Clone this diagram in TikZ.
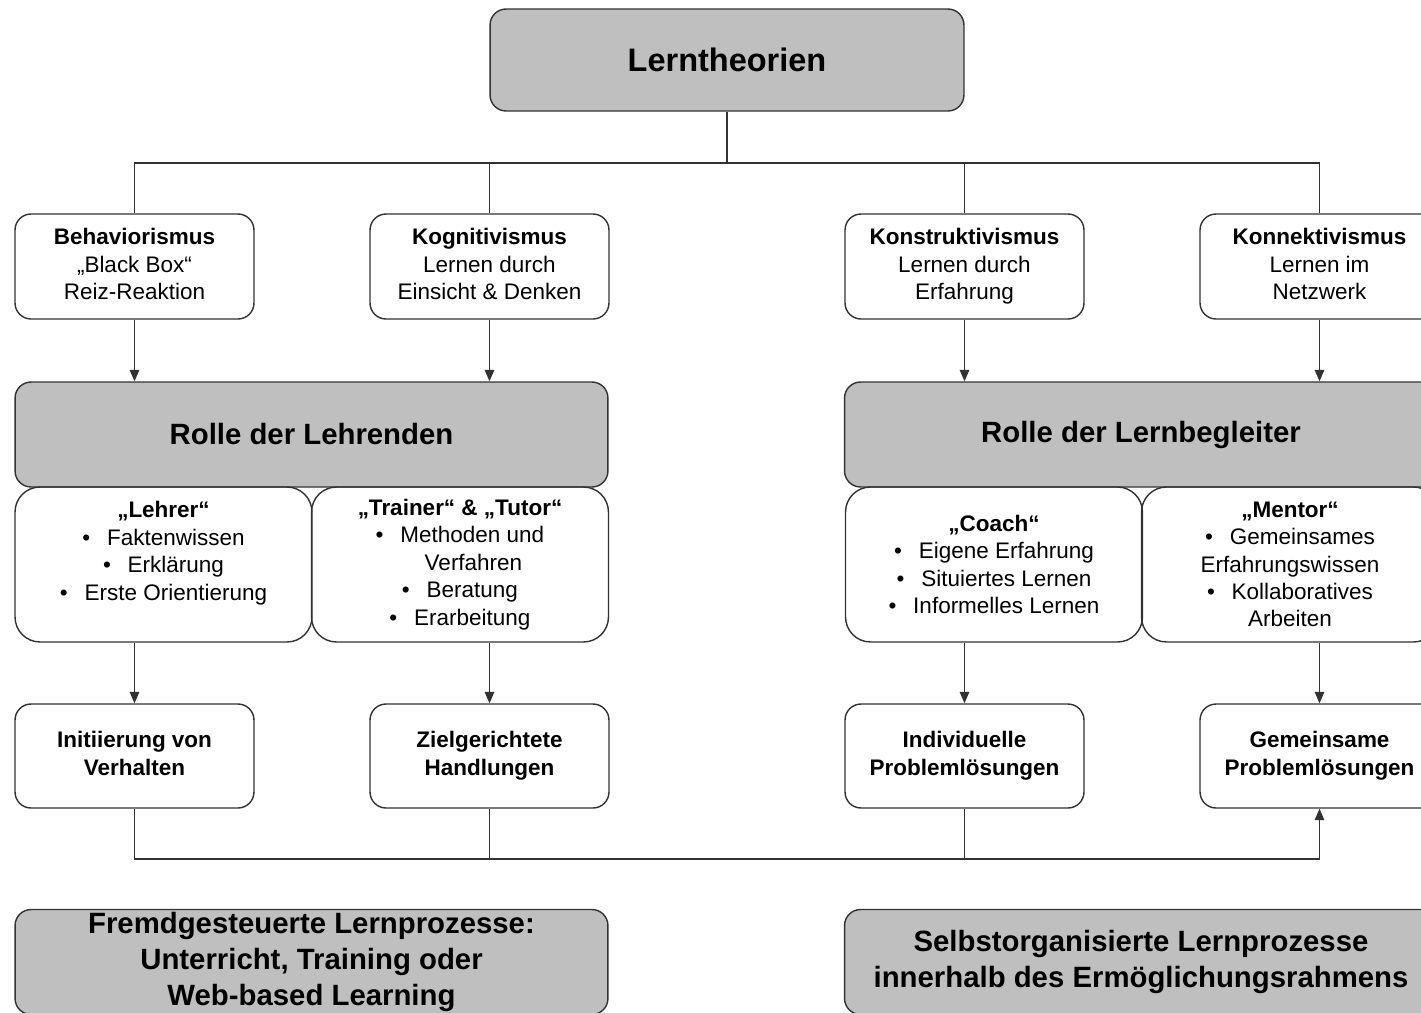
\documentclass[tikz,border=0pt]{standalone}
\usepackage{fontspec}
\setmainfont{Liberation Sans}
\usetikzlibrary{arrows.meta}
\definecolor{boxgray}{RGB}{191,191,191}
\definecolor{linegray}{RGB}{50,50,50}
\newcommand{\itm}{\textbullet\hspace{0.75em}}
\newcommand{\boxstrut}{\rule[-2.9pt]{0pt}{12.5pt}}

\begin{document}
\begin{tikzpicture}[x=0.02cm,y=-0.02cm,
  >={Triangle[length=6.5pt,width=5.4pt]},
  link/.style={draw=linegray,line width=0.8pt},
  bodyfont/.style={font=\fontsize{12.8}{15.6}\selectfont},
  bigfont/.style={font=\bfseries\fontsize{16.7}{20.2}\selectfont},
  theorybox/.style={draw=linegray,line width=0.8pt,rounded corners=0.32cm,align=center,
    bodyfont,minimum width=4.78cm,minimum height=2.1cm,
    execute at begin node=\boxstrut,execute at end node=\boxstrut},
  rolebox/.style={draw=linegray,line width=0.8pt,rounded corners=0.32cm,align=center,
    fill=boxgray,bigfont,minimum width=11.86cm,minimum height=2.1cm},
  detailbox/.style={draw=linegray,line width=0.8pt,rounded corners=0.5cm,align=center,
    bodyfont,minimum width=5.94cm,minimum height=3.1cm},
  resultbox/.style={theorybox,font=\bfseries\fontsize{12.8}{15.6}\selectfont,minimum height=2.08cm},
  processbox/.style={rolebox,font=\bfseries\fontsize{16.7}{20.3}\selectfont,
    minimum height=2.1cm,inner ysep=0pt}]

\useasboundingbox (0,0) rectangle (1421,1012);
\clip (0,0) rectangle (1421,1012);

% top
\node[rolebox,font=\bfseries\fontsize{18.5}{22}\selectfont,minimum width=9.48cm,minimum height=2.04cm]
  (lern) at (727,60) {Lerntheorien};

% theories
\node[theorybox] (behav) at (134.5,266.5) {\textbf{Behaviorismus}\\„Black Box“\\Reiz-Reaktion};
\node[theorybox] (kogn) at (489.5,266.5) {\textbf{Kognitivismus}\\Lernen durch\\Einsicht \& Denken};
\node[theorybox] (konstr) at (964.5,266.5) {\textbf{Konstruktivismus}\\Lernen durch\\Erfahrung};
\node[theorybox] (konn) at (1319.5,266.5) {\textbf{Konnektivismus}\\Lernen im\\Netzwerk};

% roles
\node[rolebox] (lehrende) at (311.5,434.5) {Rolle der Lehrenden};
\node[rolebox] (begleiter) at (1141,434.5) {Rolle der Lernbegleiter};

\node[detailbox] (lehrer) at (163.5,564.5)
  {\textbf{„Lehrer“}\\\itm Faktenwissen\\\itm Erklärung\\\itm Erste Orientierung\\\mbox{}};
\node[detailbox] (trainer) at (460,564.5)
  {\textbf{„Trainer“ \& „Tutor“}\\\itm Methoden und\\\hspace{1.2em}Verfahren\\\itm Beratung\\\itm Erarbeitung};
\node[detailbox] (coach) at (994,564.5)
  {\textbf{„Coach“}\\\itm Eigene Erfahrung\\\itm Situiertes Lernen\\\itm Informelles Lernen};
\node[detailbox] (mentor) at (1290,564.5)
  {\textbf{„Mentor“}\\\itm Gemeinsames\\Erfahrungswissen\\\itm Kollaboratives\\Arbeiten};

% results
\node[resultbox] (init) at (134.5,756) {Initiierung von\\Verhalten};
\node[resultbox] (ziel) at (489.5,756) {Zielgerichtete\\Handlungen};
\node[resultbox] (indiv) at (964.5,756) {Individuelle\\Problemlösungen};
\node[resultbox] (gemein) at (1319.5,756) {Gemeinsame\\Problemlösungen};

% processes
\node[processbox] (fremd) at (311.5,962)
  {Fremdgesteuerte Lernprozesse:\\Unterricht, Training oder\\Web-based Learning};
\node[processbox] (selbst) at (1141,962)
  {Selbstorganisierte Lernprozesse\\innerhalb des Ermöglichungsrahmens};

% connectors
\coordinate (split) at (727,163);
\coordinate (merge) at (1319.5,859);

\draw[link] (lern.south) -- (split);
\draw[link] (behav.north) -- (behav.north |- split) -- (konn.north |- split) -- (konn.north);
\draw[link] (kogn.north) -- (kogn.north |- split);
\draw[link] (konstr.north) -- (konstr.north |- split);

\draw[link,->] (behav.south) -- (behav.south |- lehrende.north);
\draw[link,->] (kogn.south) -- (kogn.south |- lehrende.north);
\draw[link,->] (konstr.south) -- (konstr.south |- begleiter.north);
\draw[link,->] (konn.south) -- (konn.south |- begleiter.north);

\draw[link,->] (init.north |- lehrer.south) -- (init.north);
\draw[link,->] (ziel.north |- trainer.south) -- (ziel.north);
\draw[link,->] (indiv.north |- coach.south) -- (indiv.north);
\draw[link,->] (gemein.north |- mentor.south) -- (gemein.north);

\draw[link] (init.south) -- (init.south |- merge) -- (merge);
\draw[link] (ziel.south) -- (ziel.south |- merge);
\draw[link] (indiv.south) -- (indiv.south |- merge);
\draw[link,->] (merge) -- (gemein.south);

\end{tikzpicture}
\end{document}
